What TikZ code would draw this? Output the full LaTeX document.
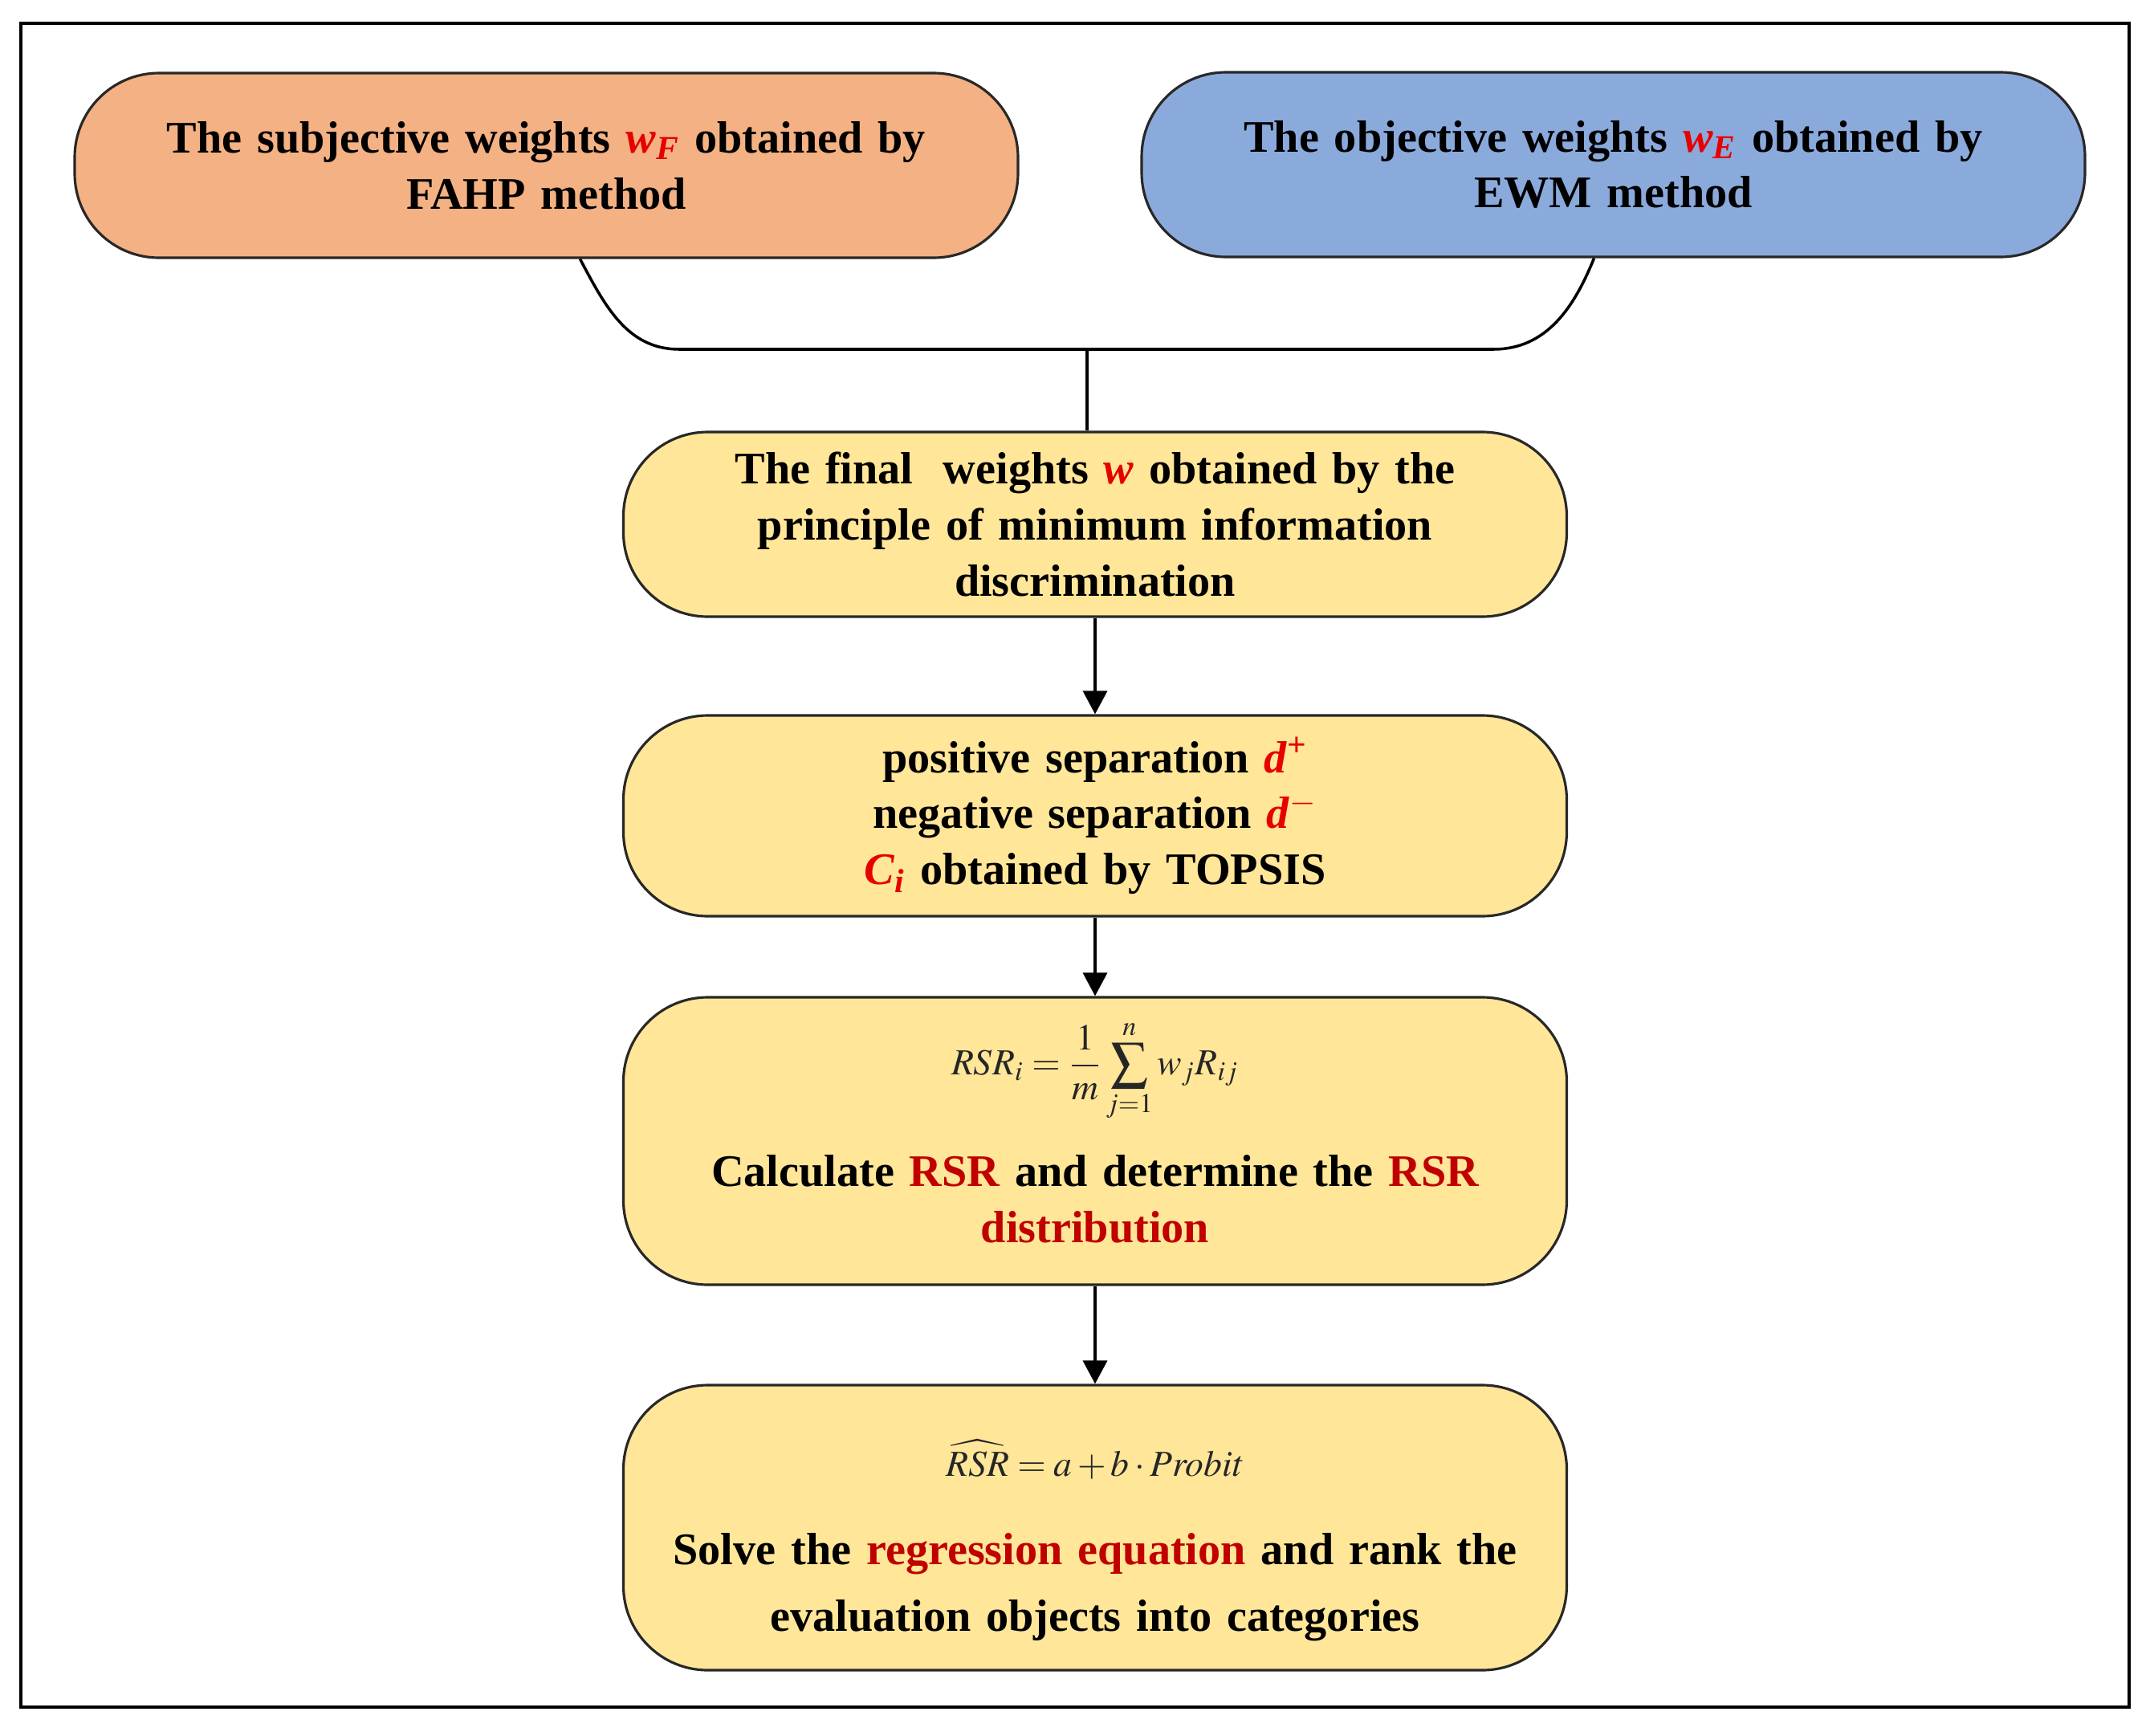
\documentclass[tikz,border=0pt]{standalone}
\usepackage{mathptmx}
\usepackage{fontspec}
\setmainfont{Liberation Serif}
\usepackage{tikz}
\usetikzlibrary{arrows.meta,positioning,calc}
\definecolor{fwOrange}{RGB}{244,177,131}
\definecolor{fwBlue}{RGB}{139,170,220}
\definecolor{fwYellow}{RGB}{255,230,153}
\definecolor{fwRed}{RGB}{230,0,0}
\definecolor{fwDark}{RGB}{192,0,0}
\definecolor{fwEdge}{RGB}{40,40,40}
\newcommand{\hl}[1]{\textcolor{fwRed}{#1}}
\newcommand{\eqfont}{\mdseries\fontsize{13}{15}\selectfont\color{black!85}%
  \thickmuskip=4mu\medmuskip=2.5mu}

\begin{document}
\begin{tikzpicture}[font=\fontsize{16}{19.8}\selectfont\bfseries,
  stagebox/.style={draw=fwEdge, line width=0.9pt, rounded corners=1.05cm,
    align=center, text width=11.2cm, minimum width=11.75cm, inner sep=0pt},
  link/.style={line width=1pt},
  flow/.style={line width=1pt, -{Triangle[length=2.9mm,width=3mm]}}]
\useasboundingbox (0,0) rectangle (26.78,-21.62);
% frame
\draw[line width=1.1pt] (0.26,-0.29) rectangle (26.52,-21.26);

% weight sources
\node[stagebox, fill=fwOrange, minimum height=2.3cm] (subj) at (6.805,-2.06)
  {The subjective weights \hl{\textit{w}\textsubscript{\textit{F}}} obtained by\\FAHP method};
\node[stagebox, fill=fwBlue, minimum height=2.3cm] (obj) at (20.095,-2.05)
  {The objective weights \hl{\textit{w}\textsubscript{\textit{E}}} obtained by\\EWM method};

% stages
\node[stagebox, fill=fwYellow, minimum height=2.3cm] (final) at (13.64,-6.53)
  {The final~ weights \hl{\textit{w}} obtained by the\\principle of minimum information\\discrimination};
\node[stagebox, fill=fwYellow, minimum height=2.5cm] (topsis) at (13.64,-10.16)
  {positive separation \hl{\textit{d}\textsuperscript{+}}\\negative separation \hl{\textit{d}\textsuperscript{$-$}}\\\hl{\textit{C}\textsubscript{\textit{i}}} obtained by TOPSIS};
\node[stagebox, fill=fwYellow, minimum height=3.58cm] (rsr) at (13.64,-14.21)
  {{\eqfont$\displaystyle RSR_i=\frac{1}{m}\sum_{j=1}^{n}w_jR_{ij}$}\\[0.38cm]
   Calculate \textcolor{fwDark}{RSR} and determine the \textcolor{fwDark}{RSR}\\\textcolor{fwDark}{distribution}\rule[-0.24cm]{0pt}{0pt}};
\node[stagebox, fill=fwYellow, minimum height=3.55cm] (rank) at (13.64,-19.025)
  {{\eqfont\rule{0pt}{0.78cm}$\widehat{RSR}=a+b\cdot Probit$}\\[0.4cm]
   Solve the \textcolor{fwDark}{regression equation} and rank the\\[0.14cm]evaluation objects into categories};

% merge of the two weights
\coordinate (bend) at (13.54,-4.35);
\draw[link] ($(subj.south)+(0.42,0)$) to[out=-62,in=180] ($(bend)+(-5.08,0)$)
  -- ($(bend)+(5.06,0)$) to[out=0,in=-112] ($(obj.south)+(-0.24,0)$);
\draw[link] (bend) -- (bend |- final.north);

% flow
\foreach \a/\b in {final/topsis, topsis/rsr, rsr/rank}
  \draw[flow] (\a.south) -- (\b.north);
\end{tikzpicture}
\end{document}
